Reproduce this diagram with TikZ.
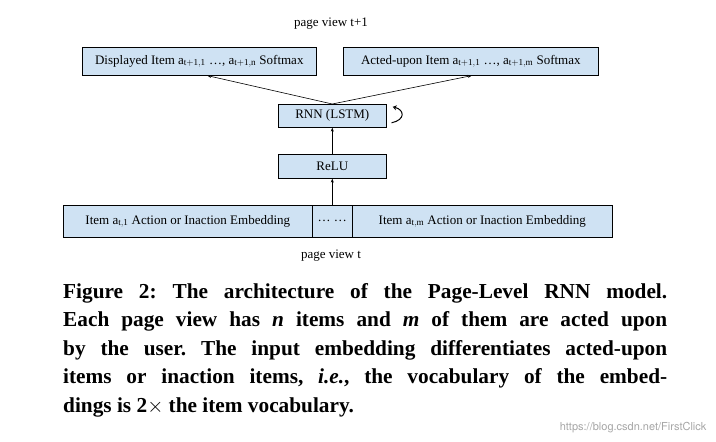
\documentclass[tikz,border=0pt]{standalone}
\usepackage{fontspec}
\setmainfont{Liberation Serif}
\newfontfamily\capfont{TeX Gyre Heros}
\usetikzlibrary{arrows.meta}
\definecolor{boxblue}{RGB}{207,226,243}
\begin{document}
\begin{tikzpicture}[x=1pt,y=-1pt,
  box/.style={draw=black,fill=boxblue,line width=0.6pt,inner sep=0pt,anchor=north west},
  lbl/.style={font=\fontsize{13}{15}\selectfont},
  arr/.style={-{Stealth[length=4pt,width=3pt]},line width=0.6pt}]
\useasboundingbox[fill=white] (0,0) rectangle (716,442);
\node[box,minimum width=234,minimum height=28,lbl] (disp) at (82,47) {Displayed Item a$_{\mathrm{t+1,1}}$ \dots, a$_{\mathrm{t+1,n}}$ Softmax};
\node[box,minimum width=255,minimum height=28,lbl] (act) at (343,47) {Acted-upon Item a$_{\mathrm{t+1,1}}$ \dots, a$_{\mathrm{t+1,m}}$ Softmax};
\node[box,minimum width=108,minimum height=23,lbl] (rnn) at (278,104) {RNN (LSTM)};
\node[box,minimum width=108,minimum height=24,lbl] (relu) at (278,154) {ReLU};
\node[box,minimum width=249,minimum height=32,lbl] (emb1) at (63,205) {Item a$_{\mathrm{t,1}}$ Action or Inaction Embedding};
\node[box,minimum width=40,minimum height=32,lbl] (dots) at (312,205) {\dots\ \dots};
\node[box,minimum width=260,minimum height=32,lbl] (emb2) at (352,205) {Item a$_{\mathrm{t,m}}$ Action or Inaction Embedding};
\node[lbl] (pv1) at (331,24) {page view t+1};
\node[lbl] (pv0) at (331,256) {page view t};
\draw[arr] (dots.north) -- (relu.south);
\draw[arr] (relu.north) -- (rnn.south);
\draw[arr] (rnn.north) -- ([xshift=8]disp.south);
\draw[arr] (rnn.north) -- ([xshift=1]act.south);
\draw[line width=1pt,-{Stealth[length=4pt,width=5pt,open]}] ([xshift=5,yshift=-7]rnn.east) .. controls +(14,-3) and +(12,3) .. ([xshift=6,yshift=9]rnn.east);
\node[anchor=north west,inner sep=0pt] (cap) at (63,283) {\parbox{604pt}{\frenchspacing\fontsize{21.3}{28.5}\selectfont\bfseries Figure 2: The architecture of the Page-Level RNN model.\linebreak Each page view has \textit{n} items and \textit{m} of them are acted upon\linebreak by the user. The input embedding differentiates acted-upon\linebreak items or inaction items, \textit{i.e.}, the vocabulary of the embed-\linebreak dings is 2$\times$ the item vocabulary.}};
\node[anchor=south east,text=black!35,font=\capfont\fontsize{11}{13}\selectfont] (wm) at (710,436) {https://blog.csdn.net/FirstClick};
\end{tikzpicture}
\end{document}
